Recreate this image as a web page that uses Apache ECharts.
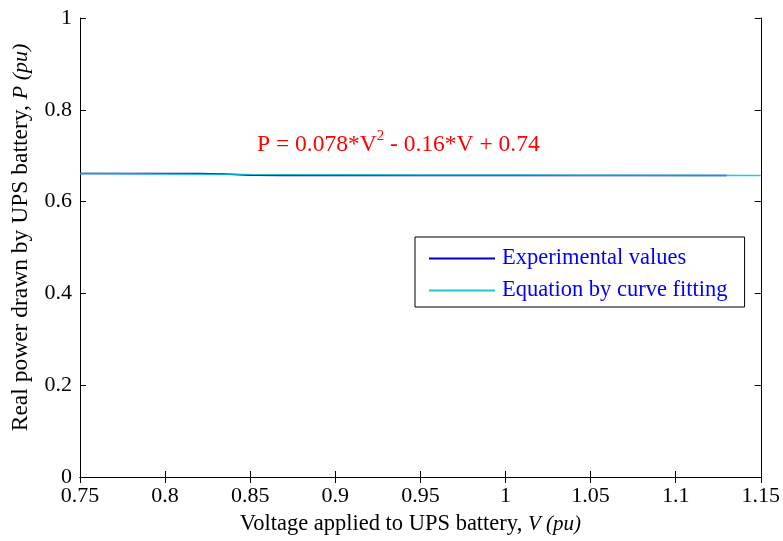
<!DOCTYPE html>
<html>
<head>
<meta charset="utf-8">
<script src="https://cdn.jsdelivr.net/npm/echarts@6/dist/echarts.min.js"></script>
<style>
html,body{margin:0;padding:0;background:#fff;}
#main{width:783px;height:541px;}
</style>
</head>
<body>
<div id="main"></div>
<script>
// measured values, voltage (pu) vs real power (pu)
var expVoltage = [0.75, 0.78, 0.82, 0.835, 0.85, 0.87, 0.90, 0.95, 1.00, 1.05, 1.10, 1.13];
var expPower   = [0.661, 0.661, 0.661, 0.660, 0.6575, 0.657, 0.657, 0.657, 0.657, 0.657, 0.657, 0.657];
// fitted curve points
var fitVoltage = [0.75, 0.85, 0.95, 1.05, 1.15];
var fitPower   = [0.661, 0.659, 0.658, 0.6575, 0.657];

var serif = 'Liberation Serif, Times New Roman, serif';

function pairs(xs, ys){
    var out = [];
    for (var i = 0; i < xs.length; i++) out.push([xs[i], ys[i]]);
    return out;
}

function fmt(v){ return String(parseFloat(v.toFixed(2))); }

var chart = echarts.init(document.getElementById('main'));
var option = {
    animation: false,
    backgroundColor: '#fff',
    grid: { left: 80, right: 21, top: 18, bottom: 63 },
    legend: {
        orient: 'vertical',
        left: 415, top: 237,
        padding: [10, 17, 5, 14],
        itemGap: 9,
        itemWidth: 66, itemHeight: 2,
        icon: 'rect',
        borderColor: '#000', borderWidth: 1,
        backgroundColor: '#fff',
        textStyle: { color: '#0000ff', fontFamily: serif, fontSize: 22.5, padding: [0, 0, 0, 2] },
        data: ['Experimental values', 'Equation by curve fitting']
    },
    xAxis: [{
        type: 'value', min: 0.75, max: 1.15, interval: 0.05,
        name: '{n|Voltage applied to UPS battery, }{i|V (pu)}',
        nameLocation: 'middle', nameGap: 36,
        nameTextStyle: { padding: [0, 20, 0, 0], rich: {
            n: { fontFamily: serif, fontSize: 22.5, color: '#000' },
            i: { fontFamily: serif, fontSize: 21, fontStyle: 'italic', color: '#000' }
        }},
        axisLine: { lineStyle: { color: '#000', width: 1 } },
        axisTick: { inside: true, length: 6, lineStyle: { color: '#000' } },
        axisLabel: { color: '#000', fontFamily: serif, fontSize: 22, margin: 8, formatter: fmt },
        splitLine: { show: false }
    }, {
        type: 'value', min: 0.75, max: 1.15, interval: 0.05, position: 'top',
        axisLine: { lineStyle: { color: '#000', width: 1 } },
        axisTick: { inside: true, length: 6, lineStyle: { color: '#000' } },
        axisLabel: { show: false }, splitLine: { show: false }
    }],
    yAxis: [{
        type: 'value', min: 0, max: 1, interval: 0.2,
        name: '{n|Real power drawn by UPS battery, }{i|P (pu)}',
        nameLocation: 'middle', nameGap: 47, nameRotate: 90,
        nameTextStyle: { padding: [0, 0, 0, 20], rich: {
            n: { fontFamily: serif, fontSize: 23.5, color: '#000' },
            i: { fontFamily: serif, fontSize: 22, fontStyle: 'italic', color: '#000' }
        }},
        axisLine: { show: true, lineStyle: { color: '#000', width: 1 } },
        axisTick: { show: true, inside: true, length: 6, lineStyle: { color: '#000' } },
        axisLabel: { color: '#000', fontFamily: serif, fontSize: 22, margin: 8, formatter: fmt },
        splitLine: { show: false }
    }, {
        type: 'value', min: 0, max: 1, interval: 0.2, position: 'right',
        axisLine: { show: true, lineStyle: { color: '#000', width: 1 } },
        axisTick: { show: true, inside: true, length: 6, lineStyle: { color: '#000' } },
        axisLabel: { show: false }, splitLine: { show: false }
    }],
    series: [{
        name: 'Experimental values',
        type: 'line',
        data: pairs(expVoltage, expPower),
        showSymbol: false,
        color: '#0000c8',
        lineStyle: { width: 1.5, color: '#0000c8' }
    }, {
        name: 'Equation by curve fitting',
        type: 'line',
        smooth: true,
        data: pairs(fitVoltage, fitPower),
        showSymbol: false,
        color: '#20c8c8',
        lineStyle: { width: 1.5, color: '#00c0d0', opacity: 0.85 }
    }],
    graphic: [{
        type: 'text',
        left: 257, top: 129,
        style: {
            text: '{t|P = 0.078*V}{s|2}{t| - 0.16*V + 0.74}',
            rich: {
                t: { fontFamily: serif, fontSize: 23.5, fill: '#ff0000', verticalAlign: 'bottom', lineHeight: 28 },
                s: { fontFamily: serif, fontSize: 15, fill: '#ff0000', verticalAlign: 'top', lineHeight: 28, padding: [0, 0, 12, 0] }
            }
        }
    }]
};
chart.setOption(option);
</script>
</body>
</html>
